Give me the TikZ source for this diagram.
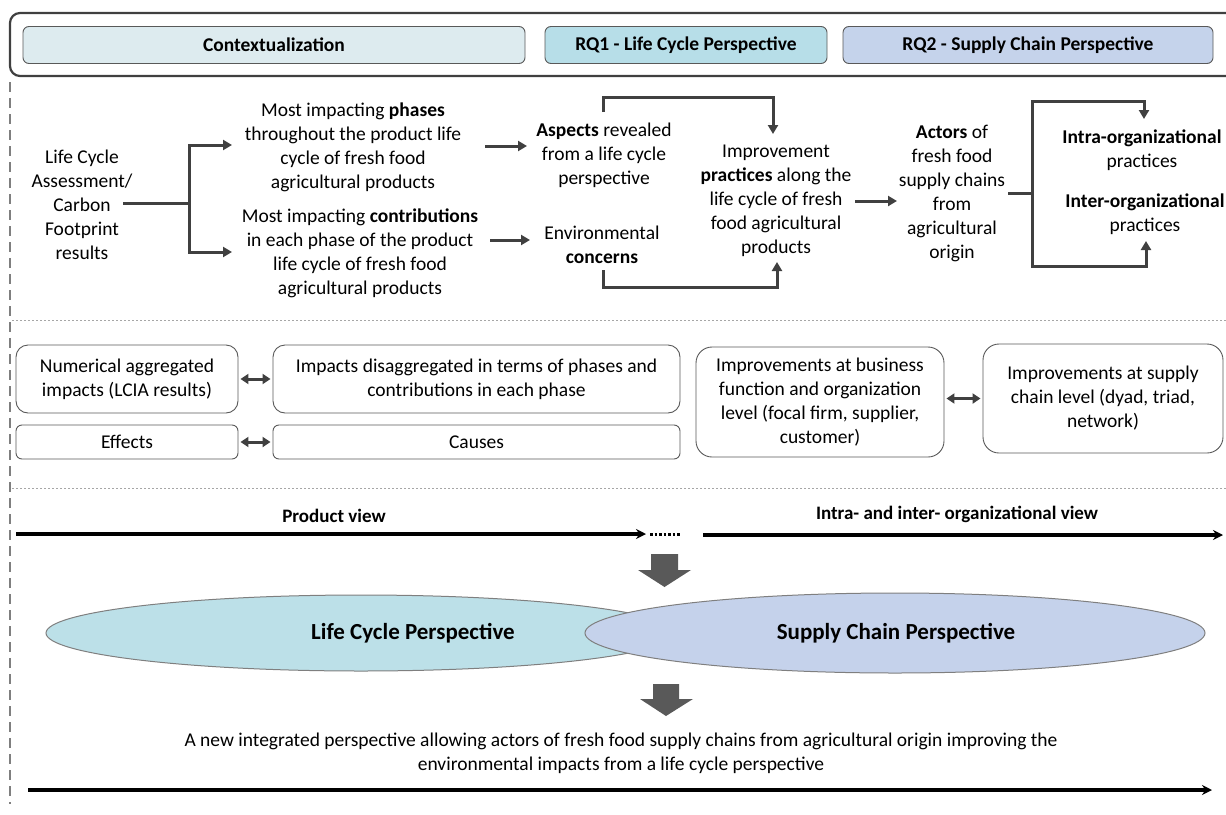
\documentclass[tikz,border=0pt]{standalone}
\usepackage{fontspec}
\setmainfont{Carlito}
\usetikzlibrary{arrows.meta,calc,shapes.geometric}
\definecolor{ink}{HTML}{404040}
\definecolor{rimgray}{HTML}{595959}
\definecolor{sepgray}{HTML}{A6A6A6}
\definecolor{railgray}{HTML}{7F7F7F}
\definecolor{ctxfill}{HTML}{DDEBEF}
\definecolor{rqonefill}{HTML}{B7DEE8}
\definecolor{rqtwofill}{HTML}{C5D3EB}
\definecolor{lcfill}{HTML}{BCE0E8}
\definecolor{scfill}{HTML}{C5D2EB}
\definecolor{blockgray}{HTML}{595959}

\begin{document}
\begin{tikzpicture}[x=1pt,y=-1pt,
  txt/.style={align=center,font=\fontsize{19.5}{24}\selectfont,inner sep=0pt},
  hdr/.style={draw=rimgray,rounded corners=6pt,minimum height=37pt,inner sep=0pt,
    font=\bfseries\fontsize{19.5}{22}\selectfont,line width=0.9pt},
  rbox/.style={draw=rimgray,rounded corners=12pt,line width=0.9pt,align=center,inner sep=0pt,
    font=\fontsize{19.5}{24}\selectfont},
  conn/.style={draw=ink,line width=3pt},
  arr/.style={conn,-{Triangle[length=9pt,width=10pt]}},
  dbl/.style={conn,{Triangle[length=8pt,width=10pt]}-{Triangle[length=8pt,width=10pt]}},
  flow/.style={draw=black,line width=3.2pt,-{Stealth[length=10pt,width=10pt]}},
  view/.style={font=\bfseries\fontsize{19}{22}\selectfont,inner sep=0pt},
  persp/.style={ellipse,draw=railgray,line width=1pt,inner sep=0pt},
  plabel/.style={font=\bfseries\fontsize{23}{26}\selectfont,inner sep=0pt},
  bigarrow/.style={fill=blockgray},
]
\useasboundingbox (0,0) rectangle (1226,814);

% ---- header band ----
\draw[ink,line width=2.2pt,rounded corners=10pt] (1230,13) -- (10,13) -- (10,76) -- (1230,76);
\node[hdr,fill=ctxfill,minimum width=502pt] (ctx) at (274,45) {Contextualization};
\node[hdr,fill=rqonefill,minimum width=282pt] (rq1) at (686,45) {RQ1 - Life Cycle Perspective};
\node[hdr,fill=rqtwofill,minimum width=370pt] (rq2) at (1028,45) {RQ2 - Supply Chain Perspective};

% ---- left rail and separators ----
\draw[railgray,line width=2pt,dash pattern=on 10pt off 6pt] (10,82) -- (10,804);
\draw[sepgray,line width=1pt,dash pattern=on 2pt off 2pt] (12,320) -- (1226,320);
\draw[sepgray,line width=1pt,dash pattern=on 2pt off 2pt] (12,488) -- (1226,488);

% ---- row 1: from results to practices ----
\node[txt] (lca) at (82,205) {Life Cycle\\Assessment/\\Carbon\\Footprint\\results};
\node[txt] (phases) at (353,147) {Most impacting \textbf{phases}\\throughout the product life\\cycle of fresh food\\agricultural products};
\node[txt] (contrib) at (360,253) {Most impacting \textbf{contributions}\\in each phase of the product\\life cycle of fresh food\\agricultural products};
\node[txt] (aspects) at (604,155) {\textbf{Aspects} revealed\\from a life cycle\\perspective};
\node[txt] (env) at (602,245) {Environmental\\\textbf{concerns}};
\node[txt] (improve) at (776,201) {Improvement\\\textbf{practices} along the\\life cycle of fresh\\food agricultural\\products};
\node[txt] (actors) at (952,193) {\textbf{Actors} of\\fresh food\\supply chains\\from\\agricultural\\origin};
\node[txt] (intra) at (1142,150) {\textbf{Intra-organizational}\\practices};
\node[txt] (inter) at (1145,214) {\textbf{Inter-organizational}\\practices};

\coordinate (fork) at (189,203);
\coordinate (phIn) at (232,145);
\coordinate (coIn) at (232,252);
\draw[conn] (123,203) -- (fork);
\draw[arr] (fork) |- (phIn);
\draw[arr] (fork) |- (coIn);

\coordinate (asIn) at (527,146);
\coordinate (enIn) at (530,240);
\draw[arr] (485,146) -- (asIn);
\draw[arr] (490,240) -- (enIn);

\coordinate (asTop) at (603,112);
\coordinate (imTop) at (773,134);
\draw[arr] (asTop) -- (603,97) -| (imTop);
\coordinate (enBot) at (603,270);
\coordinate (imBot) at (777,262);
\draw[arr] (enBot) -- (603,287) -| (imBot);

\coordinate (acIn) at (897,201);
\draw[arr] (855,201) -- (acIn);

\coordinate (fork2) at (1032,193);
\coordinate (inTop) at (1144,119);
\coordinate (inBot) at (1146,241);
\draw[conn] (1008,193) -- (fork2);
\draw[arr] (fork2) -- (1032,101) -| (inTop);
\draw[arr] (fork2) -- (1032,266) -| (inBot);

% ---- row 2: levels of analysis ----
\node[rbox,minimum width=222pt,minimum height=68pt] (num) at (127,379) {Numerical aggregated\\impacts (LCIA results)};
\node[rbox,minimum width=407pt,minimum height=68pt] (imp) at (476.5,379) {Impacts disaggregated in terms of phases and\\contributions in each phase};
\node[rbox,minimum width=222pt,minimum height=34pt,rounded corners=6pt] (eff) at (127,442) {Effects};
\node[rbox,minimum width=407pt,minimum height=34pt,rounded corners=6pt] (cau) at (476.5,442) {Causes};
\node[rbox,minimum width=248pt,minimum height=110pt,rounded corners=16pt] (biz) at (820,402) {Improvements at business\\function and organization\\level (focal firm, supplier,\\customer)};
\node[rbox,minimum width=240pt,minimum height=109pt,rounded corners=16pt] (sc) at (1103,398.5) {Improvements at supply\\chain level (dyad, triad,\\network)};
\draw[dbl] ([xshift=2pt]num.east) -- ([xshift=-2pt]imp.west);
\draw[dbl] ([xshift=2pt]eff.east) -- ([xshift=-2pt]cau.west);
\draw[dbl] ([xshift=2pt]biz.east |- sc.west) -- ([xshift=-2pt]sc.west);

% ---- row 3: views and perspectives ----
\node[view] (pv) at (334,516) {Product view};
\node[view] (iv) at (957,514) {Intra- and inter- organizational view};
\coordinate (pvA) at (16,534);
\coordinate (pvB) at (646,534);
\coordinate (ivA) at (703,535);
\coordinate (ivB) at (1223,535);
\draw[flow] (pvA) -- (pvB);
\draw[black,line width=3pt,dash pattern=on 2.5pt off 2pt] (650,534) -- (680,534);
\draw[flow] (ivA) -- (ivB);

\fill[bigarrow] (651,554) -- (678,554) -- (678,570) -- (691,570) -- (664.5,587) -- (638,570) -- (651,570) -- cycle;

\node[persp,fill=lcfill,minimum width=630pt,minimum height=76pt] (lcp) at (361,633) {};
\node[persp,fill=scfill,minimum width=620pt,minimum height=80pt] (scp) at (895,633) {};
\node[plabel] (lcpt) at (413,633) {Life Cycle Perspective};
\node[plabel] (scpt) at (896,633) {Supply Chain Perspective};

\fill[bigarrow] (653,684) -- (679,684) -- (679,699) -- (693,699) -- (666,716) -- (640,699) -- (653,699) -- cycle;

\node[txt] (goal) at (621,753) {A new integrated perspective allowing actors of fresh food supply chains from agricultural origin improving the\\environmental impacts from a life cycle perspective};
\coordinate (gA) at (28,790);
\coordinate (gB) at (1212,790);
\draw[flow] (gA) -- (gB);
\end{tikzpicture}
\end{document}
